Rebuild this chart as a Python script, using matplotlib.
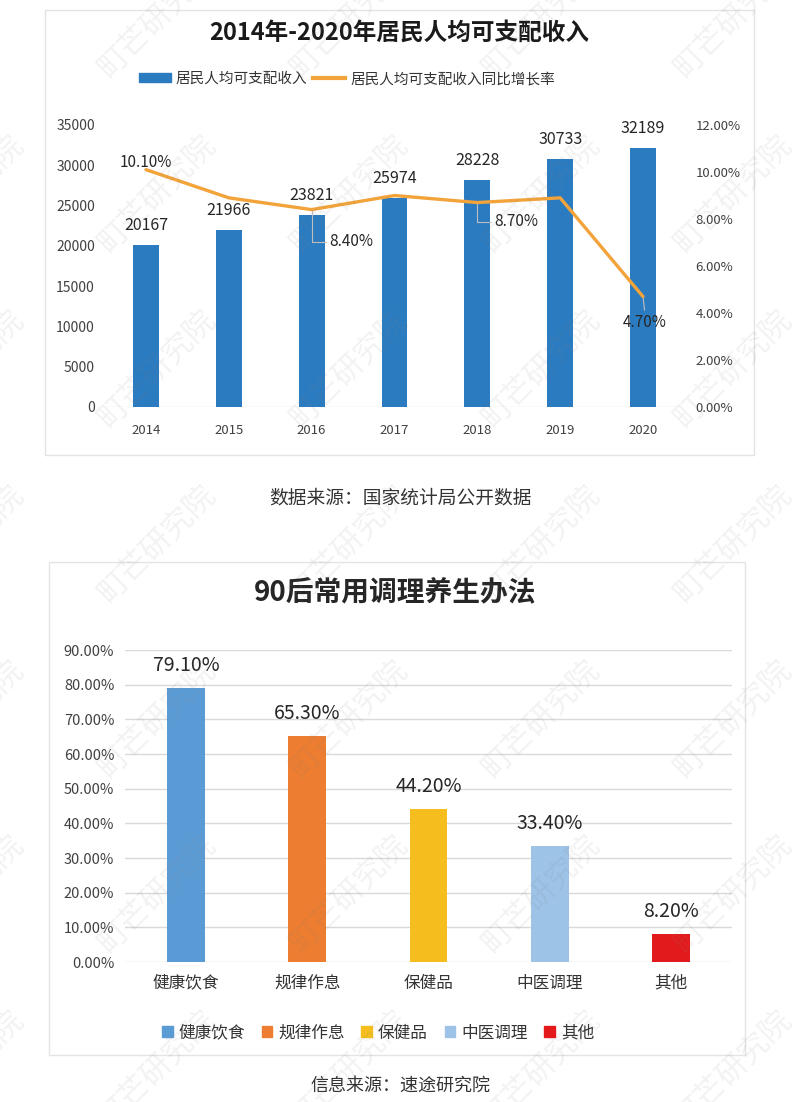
import matplotlib
matplotlib.use("Agg")
import matplotlib.pyplot as plt
from matplotlib.patches import Patch, Rectangle
from matplotlib.lines import Line2D
from matplotlib.ticker import FuncFormatter

plt.rcParams['font.family'] = ['Noto Sans CJK SC', 'DejaVu Sans']

# 数据
years = ['2014', '2015', '2016', '2017', '2018', '2019', '2020']
income = [20167, 21966, 23821, 25974, 28228, 30733, 32189]
growth = [10.1, 8.9, 8.4, 9.0, 8.7, 8.9, 4.7]

methods = ['健康饮食', '规律作息', '保健品', '中医调理', '其他']
shares = [79.1, 65.3, 44.2, 33.4, 8.2]
method_colors = ['#5B9BD5', '#ED7D31', '#F5BE1E', '#9DC3E6', '#E31A1C']

W, H = 800, 1102
fig = plt.figure(figsize=(W / 100, H / 100), dpi=100)


def px_axes(left, top, right, bottom):
    return fig.add_axes([left / W, 1 - bottom / H, (right - left) / W, (bottom - top) / H])


def fx(x):
    return x / W


def fy(y):
    return 1 - y / H


# 外框
for (l, t, r, b) in [(45, 10, 754, 455), (49, 562, 745, 1055)]:
    fig.add_artist(Rectangle((fx(l), fy(b)), (r - l) / W, (b - t) / H,
                             transform=fig.transFigure, fill=False,
                             edgecolor='#e4e4e4', lw=1))

# ---------- 上图 ----------
blue = '#2B7BC0'
orange = '#F2A33A'
ax1 = px_axes(104.6, 125, 684.4, 407)
x = range(len(years))
ax1.bar(x, income, width=0.31, color=blue, zorder=2)
ax1.set_xlim(-0.5, 6.5)
ax1.set_ylim(0, 35000)
ax1.set_yticks(range(0, 35001, 5000))
ax1.set_xticks(list(x))
ax1.set_xticklabels(years)
for i, v in enumerate(income):
    ax1.annotate(str(v), (i, v), xytext=(0, 14), textcoords='offset points',
                 ha='center', va='center', fontsize=11.5, color='#262626')

ax2 = ax1.twinx()
ax2.plot(list(x), growth, color=orange, lw=2.4, solid_capstyle='round', zorder=3)
ax2.set_ylim(0, 12)
ax2.set_yticks(range(0, 13, 2))
ax2.yaxis.set_major_formatter(FuncFormatter(lambda v, p: f'{v:.2f}%'))

for ax in (ax1, ax2):
    for s in ax.spines.values():
        s.set_visible(False)
    ax.tick_params(length=0, colors='#404040')
ax1.tick_params(axis='y', pad=7, labelsize=10)
ax2.tick_params(axis='y', pad=8, labelsize=9.5)
ax1.tick_params(axis='x', pad=12, labelsize=9.5)
ax1.axhline(0, color='#e6e6e6', lw=1, zorder=1)

lead = dict(arrowstyle='-', color='#bfbfbf', lw=0.8, shrinkA=1, shrinkB=1)
# 2014
ax2.annotate(f'{growth[0]:.2f}%', (0, growth[0]), xytext=(0, 5), textcoords='offset points',
             ha='center', va='center', fontsize=11, color='#262626')
# 2016, 2018 带引导线
for i, dx, dy in [(2, 13, -23), (4, 12.5, -14)]:
    ax2.annotate(f'{growth[i]:.2f}%', (i, growth[i]), xytext=(dx, dy), textcoords='offset points',
                 ha='left', va='center', fontsize=11, color='#262626',
                 arrowprops=dict(lead, relpos=(0, 0.5),
                                 connectionstyle='angle,angleA=0,angleB=90,rad=0'))
# 2020
ax2.annotate(f'{growth[6]:.2f}%', (6, growth[6]), xytext=(1.5, -19), textcoords='offset points',
             ha='center', va='center', fontsize=11, color='#262626',
             arrowprops=dict(lead, relpos=(0.5, 1)))

fig.text(fx(399), fy(33), '2014年-2020年居民人均可支配收入', ha='center', va='center',
         fontsize=17, fontweight='bold', color='#1a1a1a')
fig.legend([Patch(color=blue), Line2D([], [], color=orange, lw=3)],
           ['居民人均可支配收入', '居民人均可支配收入同比增长率'],
           loc='center', bbox_to_anchor=(fx(347), fy(79)), ncol=2, frameon=False,
           fontsize=10.5, handlelength=2.2, handleheight=0.55, handletextpad=0.35,
           columnspacing=0.4, labelcolor='#333333')

fig.text(fx(400), fy(498), '数据来源：国家统计局公开数据', ha='center', va='center',
         fontsize=13.5, color='#333333')

# ---------- 下图 ----------
ax3 = px_axes(125.4, 650, 731.6, 962)
ax3.bar(range(len(methods)), shares, width=0.31, color=method_colors, zorder=2)
ax3.set_xlim(-0.5, 4.5)
ax3.set_ylim(0, 90)
ax3.set_yticks(range(0, 91, 10))
ax3.yaxis.set_major_formatter(FuncFormatter(lambda v, p: f'{v:.2f}%'))
ax3.set_xticks(range(len(methods)))
ax3.set_xticklabels(methods)
ax3.grid(axis='y', color='#d9d9d9', lw=1, zorder=0)
ax3.set_axisbelow(True)
for s in ax3.spines.values():
    s.set_visible(False)
ax3.tick_params(length=0, colors='#404040')
ax3.tick_params(axis='y', labelsize=10.5, pad=8)
ax3.tick_params(axis='x', labelsize=12, pad=9, labelcolor='#333333')
for i, v in enumerate(shares):
    ax3.annotate(f'{v:.2f}%', (i, v), xytext=(0, 16), textcoords='offset points',
                 ha='center', va='center', fontsize=14, color='#262626')

fig.text(fx(395), fy(593), '90后常用调理养生办法', ha='center', va='center',
         fontsize=20, fontweight='bold', color='#262626')
fig.legend([Patch(color=c) for c in method_colors], methods,
           loc='center', bbox_to_anchor=(fx(378), fy(1033)), ncol=5, frameon=False,
           fontsize=12, handlelength=0.65, handleheight=0.65, handletextpad=0.35,
           columnspacing=1.0, labelcolor='#333333')

fig.text(fx(400), fy(1086), '信息来源：速途研究院', ha='center', va='center',
         fontsize=13, color='#333333')

# 水印
for cx in range(-35, 900, 192):
    for cy in range(18, 1200, 175):
        fig.text(fx(cx), fy(cy), '町芒研究院', rotation=45, ha='center', va='center',
                 fontsize=22, color='#808080', alpha=0.1, zorder=10)

fig.savefig('out.png', dpi=100)
